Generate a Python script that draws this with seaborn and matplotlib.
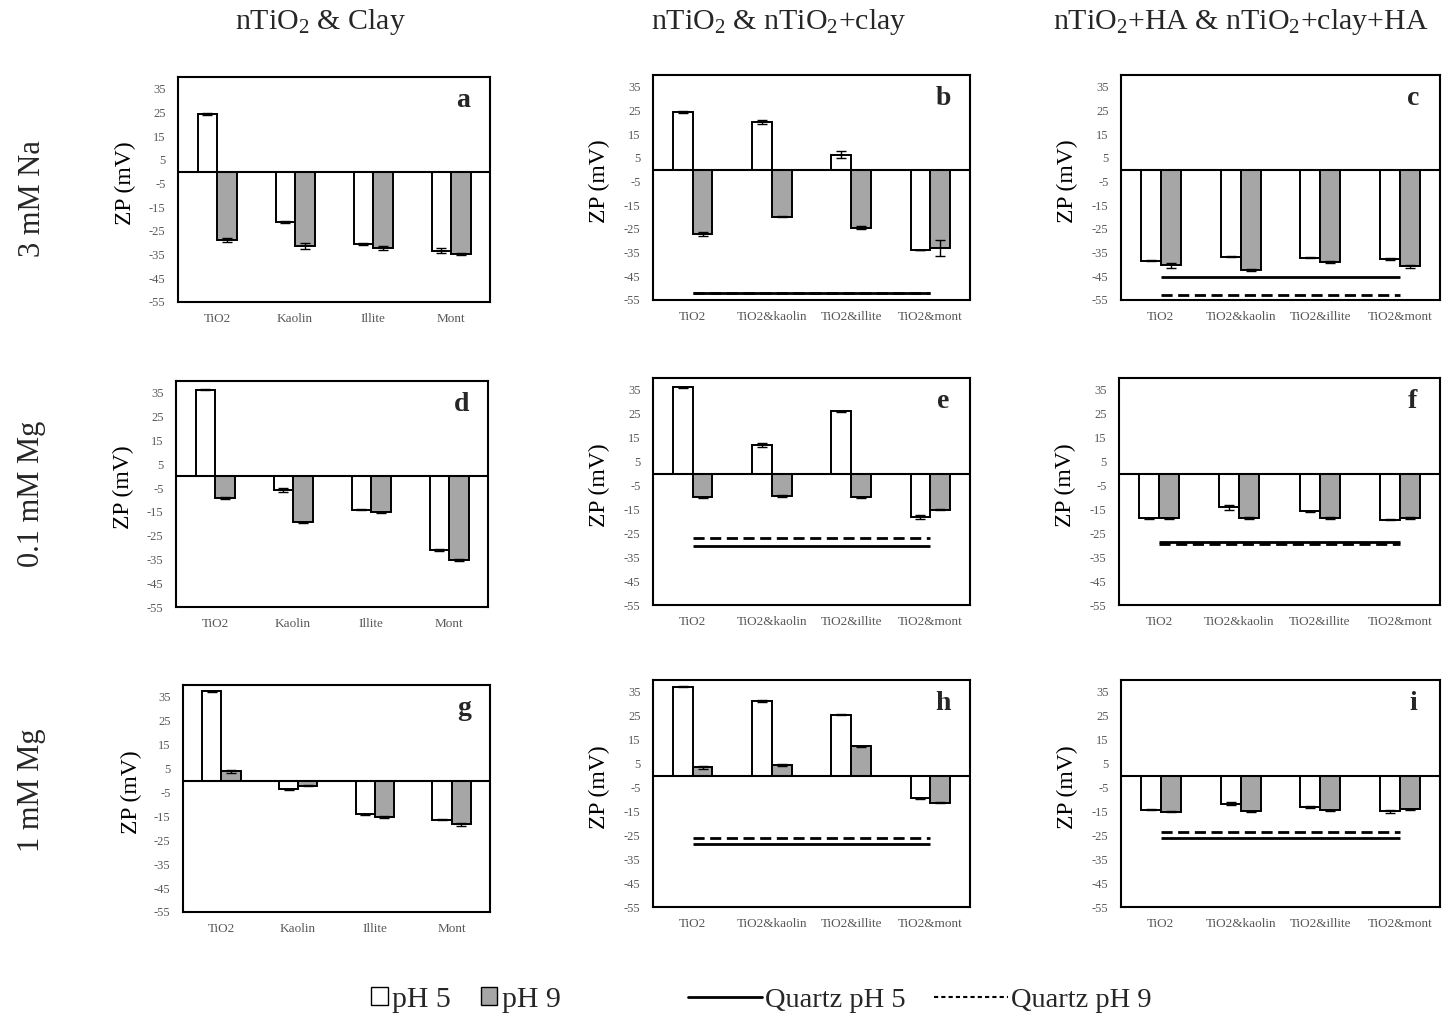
import matplotlib
matplotlib.use("Agg")
import matplotlib.pyplot as plt
import seaborn as sns
import pandas as pd
import numpy as np
from matplotlib.patches import Patch
from matplotlib.lines import Line2D
from matplotlib.container import BarContainer

# ---------------- data ----------------
cats_clay = ["TiO2", "Kaolin", "Illite", "Mont"]
cats_mix = ["TiO2", "TiO2&kaolin", "TiO2&illite", "TiO2&mont"]
ph_levels = ["pH 5", "pH 9"]

col_titles = [r"nTiO$_2$ & Clay", r"nTiO$_2$ & nTiO$_2$+clay", r"nTiO$_2$+HA & nTiO$_2$+clay+HA"]
row_titles = ["3 mM Na", "0.1 mM Mg", "1 mM Mg"]
panel_letters = ["a", "b", "c", "d", "e", "f", "g", "h", "i"]

a_ph5 = [24.3, -21.2, -30.4, -33.3]; a_ph5_err = [0.5, 0.3, 0.5, 1.0]
a_ph9 = [-28.7, -31.5, -32.2, -34.7]; a_ph9_err = [0.8, 1.2, 1.0, 0.5]

b_ph5 = [24.3, 20.3, 6.4, -34.0]; b_ph5_err = [0.4, 0.8, 1.3, 0.1]
b_ph9 = [-27.0, -19.9, -24.5, -33.0]; b_ph9_err = [0.8, 0.2, 0.6, 3.5]
b_quartz5 = -51.9; b_quartz9 = -52.2

c_ph5 = [-38.4, -36.7, -37.2, -37.7]; c_ph5_err = [0.3, 0.3, 0.2, 0.3]
c_ph9 = [-40.3, -42.2, -38.8, -40.8]; c_ph9_err = [1.0, 0.4, 0.4, 0.6]
c_quartz5 = -45.1; c_quartz9 = -52.7

d_ph5 = [36.4, -5.8, -14.1, -31.1]; d_ph5_err = [0.2, 0.7, 0.2, 0.4]
d_ph9 = [-9.1, -19.4, -15.2, -35.3]; d_ph9_err = [0.3, 0.3, 0.3, 0.5]

e_ph5 = [36.2, 12.0, 26.1, -18.1]; e_ph5_err = [0.2, 1.0, 0.2, 0.8]
e_ph9 = [-9.9, -9.4, -10.0, -15.2]; e_ph9_err = [0.3, 0.4, 0.3, 0.2]
e_quartz5 = -30.3; e_quartz9 = -26.8

f_ph5 = [-18.6, -14.1, -15.8, -19.3]; f_ph5_err = [0.2, 1.0, 0.3, 0.2]
f_ph9 = [-18.6, -18.6, -18.6, -18.6]; f_ph9_err = [0.2, 0.4, 0.3, 0.3]
f_quartz5 = -28.8; f_quartz9 = -29.3

g_ph5 = [37.3, -3.7, -14.1, -16.3]; g_ph5_err = [0.2, 0.2, 0.3, 0.2]
g_ph9 = [3.8, -2.1, -15.2, -18.3]; g_ph9_err = [0.7, 0.2, 0.5, 0.7]

h_ph5 = [37.2, 31.3, 25.5, -9.4]; h_ph5_err = [0.2, 0.5, 0.2, 0.2]
h_ph9 = [3.5, 4.5, 12.2, -11.4]; h_ph9_err = [0.7, 0.5, 0.2, 0.2]
h_quartz5 = -28.8; h_quartz9 = -26.1

i_ph5 = [-14.2, -11.7, -13.2, -14.9]; i_ph5_err = [0.2, 0.5, 0.3, 0.7]
i_ph9 = [-15.2, -14.9, -14.6, -14.1]; i_ph9_err = [0.2, 0.2, 0.2, 0.2]
i_quartz5 = -26.1; i_quartz9 = -23.6

y_ticks = [35, 25, 15, 5, -5, -15, -25, -35, -45, -55]

panels = [
    (cats_clay, a_ph5, a_ph5_err, a_ph9, a_ph9_err, None, None),
    (cats_mix, b_ph5, b_ph5_err, b_ph9, b_ph9_err, b_quartz5, b_quartz9),
    (cats_mix, c_ph5, c_ph5_err, c_ph9, c_ph9_err, c_quartz5, c_quartz9),
    (cats_clay, d_ph5, d_ph5_err, d_ph9, d_ph9_err, None, None),
    (cats_mix, e_ph5, e_ph5_err, e_ph9, e_ph9_err, e_quartz5, e_quartz9),
    (cats_mix, f_ph5, f_ph5_err, f_ph9, f_ph9_err, f_quartz5, f_quartz9),
    (cats_clay, g_ph5, g_ph5_err, g_ph9, g_ph9_err, None, None),
    (cats_mix, h_ph5, h_ph5_err, h_ph9, h_ph9_err, h_quartz5, h_quartz9),
    (cats_mix, i_ph5, i_ph5_err, i_ph9, i_ph9_err, i_quartz5, i_quartz9),
]

# ---------------- style ----------------
sns.set_theme(style="white")
plt.rcParams["font.family"] = ["Liberation Serif", "DejaVu Serif"]
plt.rcParams["mathtext.fontset"] = "custom"
plt.rcParams["mathtext.rm"] = "Liberation Serif"
plt.rcParams["mathtext.it"] = "Liberation Serif"

W, H = 1443, 1021
fig = plt.figure(figsize=(W / 100, H / 100), dpi=100)
fig.patch.set_facecolor("white")

# axes boxes in pixels: left, right, top, bottom
boxes = [
    (178, 490, 77, 302), (653, 970, 75, 300), (1121, 1440, 75, 300),
    (176, 488, 381, 607), (653, 970, 378, 605), (1119, 1440, 378, 605),
    (183, 490, 685, 912), (653, 970, 680, 907), (1121, 1440, 680, 907),
]

fills = {"pH 5": "#FFFFFF", "pH 9": "#A6A6A6"}
tick_color = "#595959"

for idx, (cats, p5, e5, p9, e9, q5, q9) in enumerate(panels):
    l, r, t, b = boxes[idx]
    ax = fig.add_axes([l / W, 1 - b / H, (r - l) / W, (b - t) / H])
    df = pd.DataFrame({
        "cat": cats * 2,
        "pH": [ph_levels[0]] * 4 + [ph_levels[1]] * 4,
        "zp": list(p5) + list(p9),
    })
    sns.barplot(data=df, x="cat", y="zp", hue="pH", order=cats, hue_order=ph_levels,
                palette=fills, edgecolor="black", linewidth=1.4, width=0.5,
                errorbar=None, legend=False, ax=ax, zorder=2)
    errs = [e5, e9]
    vals = [p5, p9]
    bar_conts = [c for c in ax.containers if isinstance(c, BarContainer)]
    for k, cont in enumerate(bar_conts):
        xs = [p.get_x() + p.get_width() / 2 for p in cont.patches]
        ax.errorbar(xs, vals[k], yerr=errs[k], fmt="none", ecolor="black",
                    elinewidth=1.0, capsize=3.5, capthick=1.0, zorder=3)
    ax.axhline(0, color="black", lw=1.5, zorder=4)
    if q5 is not None:
        xq = [0, len(cats) - 1]
        ax.plot(xq, [q5, q5], color="black", lw=2.0, solid_capstyle="butt", zorder=3)
        ax.plot(xq, [q9, q9], color="black", lw=2.0, ls=(0, (4, 2)), zorder=3)
    ax.set_xlim(-0.5, len(cats) - 0.5)
    ax.set_ylim(-55, 40)
    ax.set_yticks(y_ticks)
    ax.set_yticklabels([str(v) for v in y_ticks])
    ax.tick_params(axis="y", length=0, labelsize=9, labelcolor=tick_color, pad=9)
    ax.tick_params(axis="x", length=0, labelsize=9.5, labelcolor=tick_color, pad=8)
    ax.set_xlabel("")
    ax.set_ylabel("ZP (mV)", fontsize=17, color="black")
    ax.yaxis.set_label_coords(-0.135, 0.53)
    for sp in ax.spines.values():
        sp.set_visible(True)
        sp.set_color("black")
        sp.set_linewidth(1.5)
    ax.text(0.915, 0.895, panel_letters[idx], transform=ax.transAxes,
            fontsize=20, fontweight="bold", ha="center", va="center")

# column titles
col_x = [320, 779, 1241]
for x, txt in zip(col_x, col_titles):
    fig.text(x / W, 1 - 22 / H, txt, fontsize=21.5, ha="center", va="center")

# row titles
row_y = [199, 494, 790]
for y, txt in zip(row_y, row_titles):
    fig.text(32 / W, 1 - y / H, txt, fontsize=22, rotation=90, ha="center", va="center")

# legends
h1 = [Patch(facecolor=fills[p], edgecolor="black", linewidth=1.0) for p in ph_levels]
leg1 = fig.legend(h1, ph_levels, loc="center", bbox_to_anchor=(466 / W, 1 - 1000 / H),
                  ncol=2, frameon=False, fontsize=21.5, handlelength=0.55, handleheight=0.55,
                  handletextpad=0.15, columnspacing=1.0)
h2 = [Line2D([0], [0], color="black", lw=2), Line2D([0], [0], color="black", lw=1.5, ls=(0, (2, 1.5)))]
leg2 = fig.legend(h2, ["Quartz pH 5", "Quartz pH 9"], loc="center",
                  bbox_to_anchor=(920 / W, 1 - 1000 / H), ncol=2, frameon=False,
                  fontsize=20.5, handlelength=2.6, handletextpad=0.1, columnspacing=1.0)

fig.savefig("out.png", dpi=100, facecolor="white")
